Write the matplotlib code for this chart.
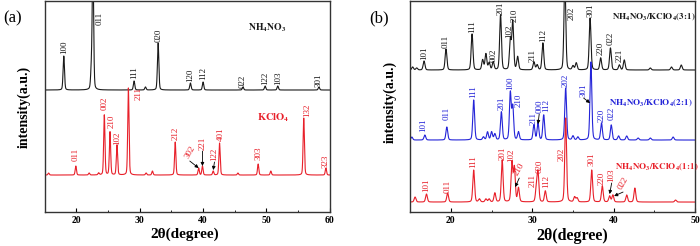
import numpy as np
import matplotlib
matplotlib.use("Agg")
import matplotlib.pyplot as plt

plt.rcParams['font.family'] = ['Liberation Serif', 'DejaVu Serif']
plt.rcParams['mathtext.fontset'] = 'stix'

# ---------------- data (peak positions in 2theta, relative heights) ----------------
# panel (a)
nh_pos = [18.0, 22.35, 22.6, 29.1, 30.9, 32.9, 38.0, 40.0, 46.3, 49.8, 51.8, 58.3]
nh_h = [34, 18, 130, 9, 3, 47, 7, 8, 3, 4, 4, 3]
kc_pos = [15.6, 19.9, 22.0, 23.5, 24.4, 25.3, 26.4, 28.2, 31.0, 32.0, 35.6, 39.3,
          39.9, 41.6, 42.6, 45.5, 48.7, 50.7, 55.9, 59.4]
kc_h = [2, 9, 2, 2, 60, 43, 30, 87, 2, 4, 33, 7, 9, 4, 32, 2, 11, 4, 57, 7]

# panel (b)
r31_pos = [15.3, 15.8, 16.7, 19.4, 22.6, 23.9, 24.3, 24.7, 25.2, 26.1, 27.3, 27.6, 28.2,
           30.2, 30.6, 31.3, 34.0, 35.0, 35.4, 37.1, 38.4, 39.6, 40.7, 41.3, 44.5, 47.1, 48.3]
r31_h = [3, 2, 9, 21, 36, 10, 16, 7, 8, 55, 30, 48, 13, 8, 5, 27, 90, 4, 7, 52, 12, 22, 5, 10, 2, 3, 5]
r21_pos = [15.2, 16.8, 19.5, 22.8, 24.0, 24.5, 25.0, 25.4, 26.2, 27.3, 27.6, 28.3, 30.2, 30.7,
           31.4, 34.1, 35.0, 35.6, 37.2, 38.5, 39.7, 40.6, 41.6, 43.0, 44.5, 47.3]
r21_h = [3, 5, 13, 40, 3, 8, 8, 6, 28, 47, 33, 8, 15, 17, 25, 52, 4, 3, 78, 17, 15, 4, 4, 2, 2, 3]
r11_pos = [15.6, 17.0, 19.6, 22.8, 23.5, 24.3, 24.7, 25.4, 26.3, 27.5, 27.8, 28.3, 30.5, 30.7,
           31.6, 34.1, 35.2, 35.5, 37.3, 38.6, 39.5, 39.9, 41.6, 42.6, 47.6]
r11_h = [5, 8, 9, 32, 3, 3, 3, 9, 42, 39, 34, 14, 13, 29, 11, 84, 5, 4, 32, 16, 6, 7, 7, 14, 2]

# peak index labels: (text, x, y)
nh_labels = [("100", 18.0, 158), ("011", 23.7, 187), ("111", 29.1, 133), ("020", 32.9, 170),
             ("120", 38.0, 130), ("112", 40.0, 132), ("022", 46.3, 124), ("122", 49.8, 127),
             ("103", 51.8, 127), ("301", 58.3, 125)]
kc_labels = [("011", 19.9, 51), ("002", 24.4, 102), ("210", 25.5, 84), ("102", 26.5, 67),
             ("211", 29.8, 112), ("212", 35.6, 72), ("401", 42.8, 71), ("303", 48.8, 52),
             ("132", 56.4, 95), ("323", 59.4, 44)]
kc_arrow_labels = [("302", 37.9, 52, 39.3, 44, 60), ("221", 39.9, 62, 39.9, 46, 90),
                   ("122", 41.8, 51, 41.6, 42, 90)]

r31_labels = [("101", 16.7, 152), ("011", 19.4, 164), ("111", 22.6, 179), ("002", 25.2, 150),
              ("201", 26.1, 197), ("102", 27.2, 174), ("210", 27.8, 190), ("211", 30.0, 150),
              ("112", 31.3, 170), ("202", 34.8, 192), ("301", 37.1, 195), ("220", 38.4, 157),
              ("022", 39.6, 167), ("221", 40.7, 150)]
r21_labels = [("101", 16.6, 80), ("011", 19.5, 92), ("111", 22.8, 114), ("201", 26.2, 102),
              ("100", 27.3, 122), ("210", 28.3, 105), ("211", 30.2, 87), ("112", 31.7, 100),
              ("202", 34.1, 125), ("220", 38.5, 90), ("022", 39.7, 92)]
r21_arrow_labels = [("000", 30.85, 99, 30.7, 88, 90), ("301", 36.3, 115, 37.1, 109, 90)]
r11_labels = [("101", 16.95, 20), ("011", 19.6, 19), ("111", 22.8, 44), ("201", 26.3, 52),
              ("102", 27.4, 50), ("211", 30.0, 25), ("020", 30.85, 39), ("112", 31.7, 24),
              ("202", 33.65, 51), ("301", 37.3, 46), ("220", 38.55, 27)]
r11_arrow_labels = [("210", 28.4, 35, 27.9, 25, 60), ("103", 39.75, 30, 39.5, 18, 90),
                    ("022", 41.15, 21, 40.05, 16, 60)]

BLACK = '#1a1a1a'
RED = '#e8202a'
BLUE = '#2424d8'


def pattern(x, pos, h, w):
    y = np.zeros_like(x)
    for p, hh in zip(pos, h):
        g = np.exp(-np.log(2) * ((x - p) / w) ** 2)
        l = 1.0 / (1.0 + ((x - p) / w) ** 2)
        y += hh * (0.75 * g + 0.25 * l)
    return y


def put_labels(ax, labels, color, fs=6.5):
    for t, x, y in labels:
        ax.text(x, y, t, rotation=90, ha='center', va='bottom', fontsize=fs, color=color,
                clip_on=True)


def put_arrow_labels(ax, labels, color, fs=6.5):
    for t, x, y, ax_, ay, rot in labels:
        ax.text(x, y, t, rotation=rot, ha='center', va='bottom', fontsize=fs, color=color)
        ax.annotate('', xy=(ax_, ay), xytext=(x, y - 1),
                    arrowprops=dict(arrowstyle='-|>', color='black', lw=0.6,
                                    mutation_scale=5, shrinkA=0, shrinkB=0))


fig = plt.figure(figsize=(7.0, 2.46), dpi=100)
axa = fig.add_axes([0.064, 0.138, 0.407, 0.858])
axb = fig.add_axes([0.586, 0.138, 0.407, 0.858])

# ---- panel (a)
xa = np.linspace(15, 60, 6000)
axa.plot(xa, 122 + pattern(xa, nh_pos, nh_h, 0.13), color=BLACK, lw=0.8)
axa.plot(xa, 37 + pattern(xa, kc_pos, kc_h, 0.12), color=RED, lw=0.8)
put_labels(axa, nh_labels, BLACK)
put_labels(axa, kc_labels, RED)
put_arrow_labels(axa, kc_arrow_labels, RED)
axa.text(50.2, 184, r'$\mathbf{NH_4NO_3}$', ha='center', va='center', fontsize=7, color=BLACK)
axa.text(51.0, 94, r'$\mathbf{KClO_4}$', ha='center', va='center', fontsize=7.5, color=RED)
axa.set_xlim(15, 60)
axa.set_ylim(0, 211)
axa.set_xticks([20, 30, 40, 50, 60])

# ---- panel (b)
xb = np.linspace(15, 50, 6000)
axb.plot(xb, 142 + pattern(xb, r31_pos, r31_h, 0.13), color=BLACK, lw=0.8)
axb.plot(xb, 72 + pattern(xb, r21_pos, r21_h, 0.13), color=BLUE, lw=0.8)
axb.plot(xb, 10 + pattern(xb, r11_pos, r11_h, 0.13), color=RED, lw=0.8)
put_labels(axb, r31_labels, BLACK)
put_labels(axb, r21_labels, BLUE)
put_labels(axb, r11_labels, RED)
put_arrow_labels(axb, r21_arrow_labels, BLUE)
put_arrow_labels(axb, r11_arrow_labels, RED)
axb.text(44.9, 195, r'$\mathbf{NH_4NO_3/KClO_4(3\!:\!1)}$', ha='center', va='center', fontsize=6.5, color=BLACK)
axb.text(44.6, 109, r'$\mathbf{NH_4NO_3/KClO_4(2\!:\!1)}$', ha='center', va='center', fontsize=6.5, color=BLUE)
axb.text(45.25, 45, r'$\mathbf{NH_4NO_3/KClO_4(1\!:\!1)}$', ha='center', va='center', fontsize=6.5, color=RED)
axb.set_xlim(15, 50)
axb.set_ylim(0, 211)
axb.set_xticks([20, 30, 40, 50])

for ax in (axa, axb):
    ax.set_yticks([])
    ax.xaxis.set_minor_locator(matplotlib.ticker.MultipleLocator(5))
    ax.tick_params(axis='x', which='major', direction='in', length=3, width=0.8, labelsize=7, pad=3)
    ax.tick_params(axis='x', which='minor', direction='in', length=1.5, width=0.6)
    for lab in ax.get_xticklabels():
        lab.set_fontweight('bold')
    for s in ax.spines.values():
        s.set_color('#333333')
        s.set_linewidth(1.0)

axa.set_xlabel('2θ(degree)', fontsize=11, fontweight='bold')
axb.set_xlabel('2θ(degree)', fontsize=11.5, fontweight='bold')
axa.xaxis.set_label_coords(0.49, -0.075)
axb.xaxis.set_label_coords(0.57, -0.075)
axa.set_ylabel('intensity(a.u.)', fontsize=10, fontweight='bold')
axb.set_ylabel('intensity(a.u.)', fontsize=10, fontweight='bold')
axa.yaxis.set_label_coords(-0.05, 0.5)
axb.yaxis.set_label_coords(-0.046, 0.52)

fig.text(13 / 700, 1 - 18 / 246, '(a)', fontsize=12, ha='center', va='center')
fig.text(379 / 700, 1 - 18 / 246, '(b)', fontsize=12, ha='center', va='center')

fig.savefig('out.png', dpi=100)
